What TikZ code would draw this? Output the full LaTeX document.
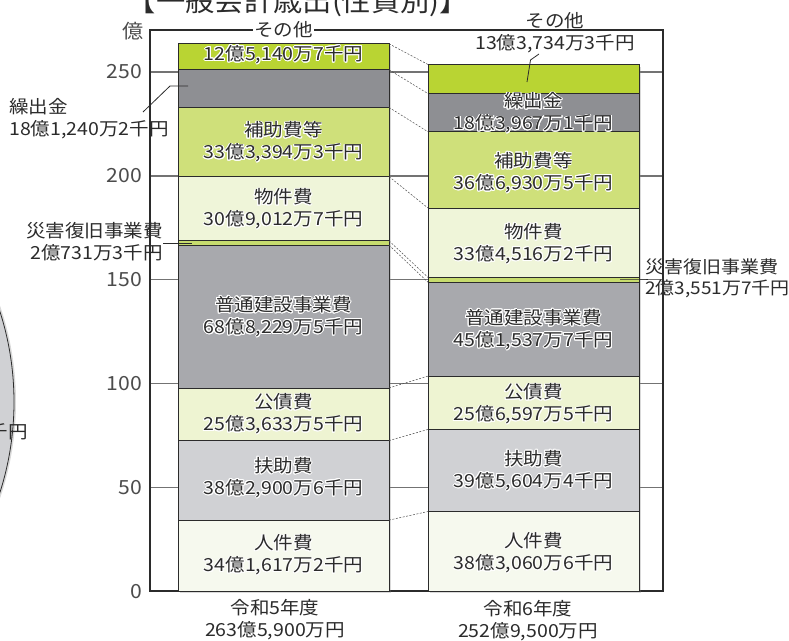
\documentclass[tikz,border=0pt]{standalone}
\usepackage{fontspec}
\usepackage{contour}
\contourlength{0.9pt}
\newfontfamily\jp{Noto Sans CJK JP}[FakeStretch=1.085]
\usetikzlibrary{shadows}
\definecolor{cOther}{HTML}{B9D433}
\definecolor{cKuri}{HTML}{8E8F93}
\definecolor{cHojo}{HTML}{CFE07A}
\definecolor{cBukken}{HTML}{EFF5D9}
\definecolor{cSai}{HTML}{C7DC6E}
\definecolor{cFutsu}{HTML}{A8A9AD}
\definecolor{cKosai}{HTML}{EEF4D2}
\definecolor{cFuj}{HTML}{D0D1D4}
\definecolor{cJin}{HTML}{F6F9EE}
\definecolor{cInk}{HTML}{2B2B2B}
\newcommand{\halotxt}[1]{\contour{white}{#1}}
\tikzset{
  seg/.style={draw=cInk, line width=0.8pt},
  lbl/.style={font=\jp\fontsize{18}{22}\selectfont, text=cInk, align=center, inner sep=0pt},
  gridln/.style={draw=black!55, line width=1.4pt},
  conn/.style={draw=black!70, line width=0.5pt, dash pattern=on 2pt off 1.5pt},
  axisln/.style={draw=cInk, line width=1.1pt},
  ticklbl/.style={font=\jp\fontsize{19.5}{20}\selectfont, text=black!70, anchor=east, inner sep=0pt},
  leader/.style={draw=cInk, line width=0.8pt},
  barshadow/.style={fill=white, drop shadow={opacity=0.3, shadow xshift=2pt, shadow yshift=-2pt}},
}
\begin{document}
\begin{tikzpicture}[x=1pt,y=-1pt]
\useasboundingbox (0,0) rectangle (789,640);
% partial circle at the left
\fill[cFuj, drop shadow={opacity=0.3, shadow xshift=2pt, shadow yshift=0pt}] (-282,402) circle (296);
\draw[line width=0.8pt, cInk] (-282,402) circle (296);
\node[lbl, anchor=east] (circtxt) at (28,432) {千円};
% title
\node[font=\jp\fontsize{27}{28}\selectfont, text=cInk, inner sep=0pt] (title) at (298,3) {【一般会計歳出(性質別)】};
% grid lines
\foreach \v in {250,200,150,100,50} {
  \draw[gridln] (150,{591-2.076*\v}) -- (663,{591-2.076*\v});
}
% frame
\draw[axisln] (150,30) -- (150,591) -- (663,591) -- (663,30) -- cycle;
% tick labels
\node[ticklbl] (t250) at (142,72) {250};
\node[ticklbl] (t200) at (142,175.8) {200};
\node[ticklbl] (t150) at (142,279.6) {150};
\node[ticklbl] (t100) at (142,383.4) {100};
\node[ticklbl] (t50) at (142,487.2) {50};
\node[ticklbl] (t0) at (142,592) {0};
\node[ticklbl, anchor=center] (unit) at (133,31) {億};
% ---- bar 1 ----
\path[barshadow] (178,43.8) rectangle (389,591);
\filldraw[seg, fill=cJin] (178,591) rectangle (389,520.1);
\filldraw[seg, fill=cFuj] (178,520.1) rectangle (389,440.6);
\filldraw[seg, fill=cKosai] (178,440.6) rectangle (389,387.9);
\filldraw[seg, fill=cFutsu] (178,387.9) rectangle (389,245.1);
\filldraw[seg, fill=cSai] (178,245.1) rectangle (389,240.8);
\filldraw[seg, fill=cBukken] (178,240.8) rectangle (389,176.6);
\filldraw[seg, fill=cHojo] (178,176.6) rectangle (389,107.4);
\filldraw[seg, fill=cKuri] (178,107.4) rectangle (389,69.8);
\filldraw[seg, fill=cOther] (178,69.8) rectangle (389,43.8);
% ---- bar 2 ----
\path[barshadow] (428,64.5) rectangle (639,591);
\filldraw[seg, fill=cJin] (428,591) rectangle (639,511.5);
\filldraw[seg, fill=cFuj] (428,511.5) rectangle (639,429.4);
\filldraw[seg, fill=cKosai] (428,429.4) rectangle (639,376.1);
\filldraw[seg, fill=cFutsu] (428,376.1) rectangle (639,282.3);
\filldraw[seg, fill=cSai] (428,282.3) rectangle (639,277.4);
\filldraw[seg, fill=cBukken] (428,277.4) rectangle (639,208.0);
\filldraw[seg, fill=cHojo] (428,208.0) rectangle (639,131.8);
\filldraw[seg, fill=cKuri] (428,131.8) rectangle (639,93.6);
\filldraw[seg, fill=cOther] (428,93.6) rectangle (639,64.5);
% boundary coordinates and dashed connectors
\foreach \i/\a/\b in {1/43.8/64.5, 2/69.8/93.6, 3/107.4/131.8, 4/176.6/208.0, 5/240.8/277.4, 6/245.1/282.3, 7/387.9/376.1, 8/440.6/429.4, 9/520.1/511.5} {
  \coordinate (L\i) at (389,\a);
  \coordinate (R\i) at (428,\b);
  \draw[conn] (L\i) -- (R\i);
}
% top "その他" of bar 1 on the frame line
\node[lbl, fill=white, inner xsep=1pt, inner ysep=0pt] (oth1) at (283.5,30) {その他};
% bar 1 labels
\node[lbl] (oth1v) at (283.5,55) {\halotxt{12億5,140万7千円}};
\node[lbl] (hojo1) at (283.5,142.5) {\halotxt{補助費等}\\\halotxt{33億3,394万3千円}};
\node[lbl] (buk1) at (283.5,209.5) {\halotxt{物件費}\\\halotxt{30億9,012万7千円}};
\node[lbl] (futs1) at (283.5,317) {\halotxt{普通建設事業費}\\\halotxt{68億8,229万5千円}};
\node[lbl] (kos1) at (283.5,414.5) {\halotxt{公債費}\\\halotxt{25億3,633万5千円}};
\node[lbl] (fuj1) at (283.5,478) {\halotxt{扶助費}\\\halotxt{38億2,900万6千円}};
\node[lbl] (jin1) at (283.5,555.5) {\halotxt{人件費}\\\halotxt{34億1,617万2千円}};
\node[lbl] (yr1) at (275,620) {令和5年度\\263億5,900万円};
% bar 1 outside labels
\node[lbl, anchor=west, align=left] (kuri1) at (9,119) {繰出金\\18億1,240万2千円};
\coordinate (kuri1a) at (143,112);
\coordinate (kuri1b) at (170,86);
\coordinate (kuri1c) at (188,86);
\draw[leader] (kuri1a) -- (kuri1b) -- (kuri1c);
\node[lbl, anchor=east, align=right] (sai1) at (163,241.5) {災害復旧事業費\\2億731万3千円};
\coordinate (sai1b) at (192,243);
\draw[leader] (sai1.east |- sai1b) -- (sai1b);
% bar 2 labels
\node[lbl] (oth2) at (555,33) {その他\\13億3,734万3千円};
\coordinate (oth2a) at (527,82);
\coordinate (oth2b) at (530.5,60);
\coordinate (oth2c) at (539,54);
\draw[leader] (oth2a) -- (oth2b) -- (oth2c);
\node[lbl] (kuri2) at (533.5,113.5) {\halotxt{繰出金}\\\halotxt{18億3,967万1千円}};
\node[lbl] (hojo2) at (533.5,173) {\halotxt{補助費等}\\\halotxt{36億6,930万5千円}};
\node[lbl] (buk2) at (533.5,244) {\halotxt{物件費}\\\halotxt{33億4,516万2千円}};
\node[lbl] (futs2) at (533.5,330) {\halotxt{普通建設事業費}\\\halotxt{45億1,537万7千円}};
\node[lbl] (kos2) at (533.5,404.5) {\halotxt{公債費}\\\halotxt{25億6,597万5千円}};
\node[lbl] (fuj2) at (533.5,471) {\halotxt{扶助費}\\\halotxt{39億5,604万4千円}};
\node[lbl] (jin2) at (533.5,553.5) {\halotxt{人件費}\\\halotxt{38億3,060万6千円}};
\node[lbl] (yr2) at (528,621) {令和6年度\\252億9,500万円};
\node[lbl, anchor=west, align=left, font=\jp\fontsize{17.5}{21}\selectfont] (sai2) at (645,278.5) {災害復旧事業費\\2億3,551万7千円};
\coordinate (sai2a) at (620,279);
\draw[leader] (sai2a) -- (sai2a -| sai2.west) -- ++(3,0);
\end{tikzpicture}
\end{document}
